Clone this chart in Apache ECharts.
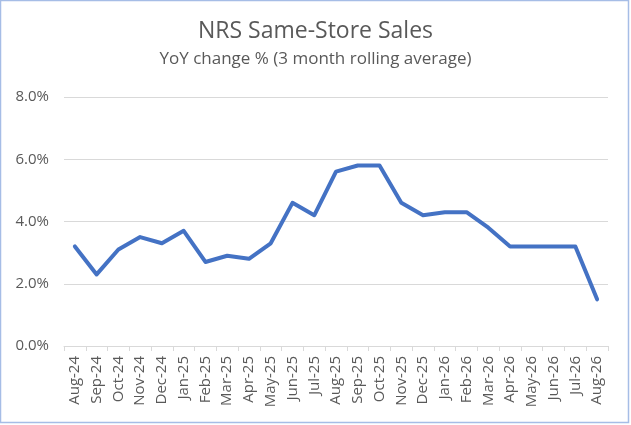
<!DOCTYPE html>
<html>
<head>
<meta charset="utf-8">
<script src="https://cdn.jsdelivr.net/npm/echarts@6/dist/echarts.min.js"></script>
<style>
  html, body { margin: 0; padding: 0; background: #fff; }
  #chart { width: 631px; height: 425px; }
</style>
</head>
<body>
<div id="chart"></div>
<script>
// months on the x axis
var months = ['Aug-24','Sep-24','Oct-24','Nov-24','Dec-24','Jan-25','Feb-25','Mar-25','Apr-25',
  'May-25','Jun-25','Jul-25','Aug-25','Sep-25','Oct-25','Nov-25','Dec-25','Jan-26','Feb-26',
  'Mar-26','Apr-26','May-26','Jun-26','Jul-26','Aug-26'];
// YoY change %, 3 month rolling average
var salesGrowth = [3.2, 2.3, 3.1, 3.5, 3.3, 3.7, 2.7, 2.9, 2.8, 3.3, 4.6, 4.2, 5.6, 5.8, 5.8,
  4.6, 4.2, 4.3, 4.3, 3.8, 3.2, 3.2, 3.2, 3.2, 1.5];
var yTicks = [0, 2, 4, 6, 8];

var font = '"Open Sans", Lato, sans-serif';
var grey = '#595959';

var chart = echarts.init(document.getElementById('chart'), null, {renderer: 'canvas'});
chart.setOption({
  animation: false,
  backgroundColor: '#fff',
  title: [{
    text: 'NRS Same-Store Sales',
    left: 'center', top: 15,
    textStyle: {fontFamily: font, fontSize: 23, fontWeight: 'normal', color: grey}
  }, {
    text: 'YoY change % (3 month rolling average)',
    left: 'center', top: 46,
    textStyle: {fontFamily: font, fontSize: 17, fontWeight: 'normal', color: grey}
  }],
  graphic: [{
    type: 'rect',
    shape: {x: 0.5, y: 0.5, width: 628, height: 422},
    style: {fill: 'none', stroke: '#a6bde6', lineWidth: 1.5},
    silent: true
  }],
  grid: {left: 64, right: 23, top: 97, bottom: 79, containLabel: false},
  xAxis: {
    type: 'category',
    data: months,
    boundaryGap: true,
    axisLine: {lineStyle: {color: '#d9d9d9', width: 1}},
    axisTick: {show: true, interval: 0, length: 5, lineStyle: {color: '#d9d9d9'}},
    axisLabel: {interval: 0, rotate: 90, margin: 10, fontFamily: font, fontSize: 15, color: grey}
  },
  yAxis: {
    type: 'value',
    min: yTicks[0], max: yTicks[yTicks.length - 1], interval: 2,
    axisLine: {show: false},
    axisTick: {show: false},
    splitLine: {lineStyle: {color: '#d9d9d9', width: 1}},
    axisLabel: {
      margin: 15, fontFamily: font, fontSize: 15, color: grey,
      formatter: function (v) { return v.toFixed(1) + '%'; }
    }
  },
  series: [{
    type: 'line',
    data: salesGrowth,
    showSymbol: false,
    lineStyle: {color: '#4472c4', width: 4, join: 'round', cap: 'round'},
    itemStyle: {color: '#4472c4'}
  }]
});
</script>
</body>
</html>
